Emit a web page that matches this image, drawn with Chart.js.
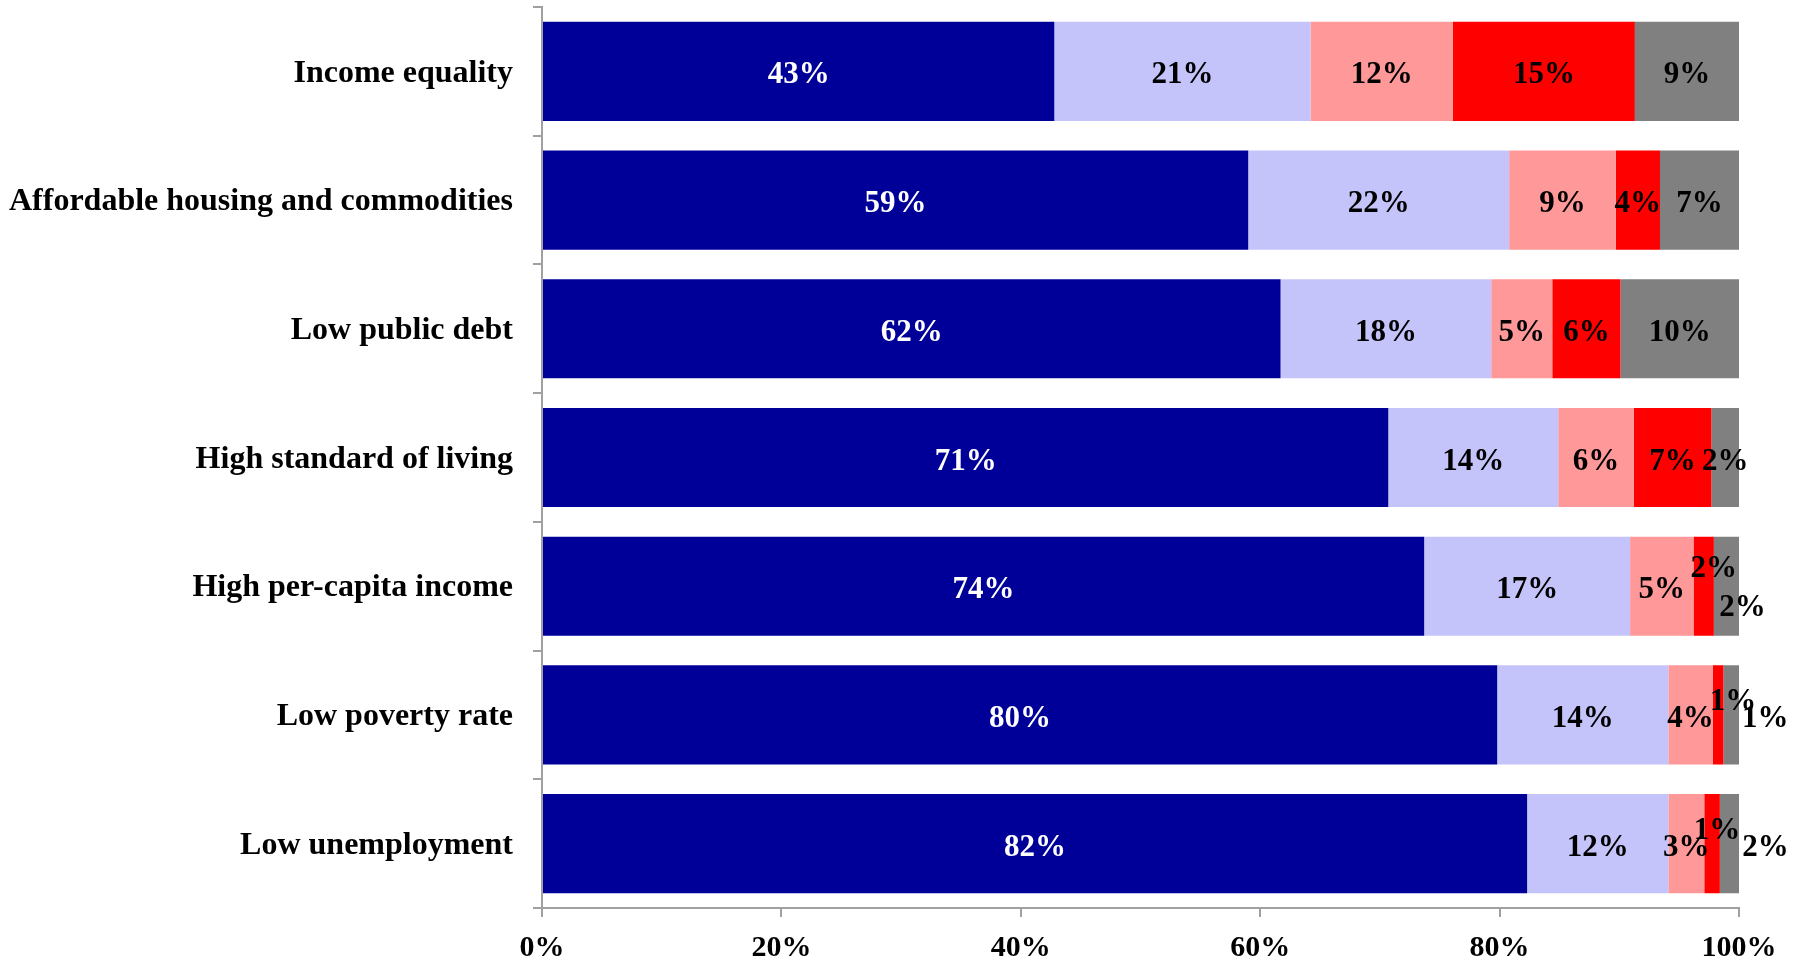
<!DOCTYPE html>
<html>
<head>
<meta charset="utf-8">
<script src="https://cdn.jsdelivr.net/npm/chart.js@4"></script>
<style>
  html, body { margin: 0; padding: 0; background: #fff; }
  #wrap { width: 1804px; height: 960px; }
</style>
</head>
<body>
<div id="wrap"><canvas id="chart" width="1804" height="960"></canvas></div>
<script>
// categories, top to bottom
const categories = [
    'Income equality',
    'Affordable housing and commodities',
    'Low public debt',
    'High standard of living',
    'High per-capita income',
    'Low poverty rate',
    'Low unemployment'
];

// shares (%)
const seriesA = [42.8, 59.0, 61.7, 70.7, 73.7, 79.8, 82.3]; // navy
const seriesB = [21.4, 21.8, 17.6, 14.2, 17.2, 14.3, 11.8]; // lavender
const seriesC = [11.9, 8.9, 5.1, 6.3, 5.3, 3.7, 3.0];       // pink
const seriesD = [15.2, 3.7, 5.7, 6.5, 1.7, 0.9, 1.3];       // red
const seriesE = [8.7, 6.6, 9.9, 2.3, 2.1, 1.3, 1.6];        // grey

const xTicks = [0, 20, 40, 60, 80, 100];

const colors = ['#000099', '#C4C4FA', '#FF9999', '#FF0000', '#808080'];
const labelColors = ['#ffffff', '#000000', '#000000', '#000000', '#000000'];

// small segments whose labels Excel pushed aside: "dataset,row" -> [dx, dy]
const labelNudge = {
    '3,4': [10, -21], '4,4': [16, 18],
    '3,5': [15, -17], '4,5': [34, 0],
    '3,6': [5, -17],  '4,6': [36, 0]
};

const serif = "'Liberation Serif', 'Times New Roman', serif";

const barLabels = {
    id: 'barLabels',
    afterDatasetsDraw(chart) {
        const ctx = chart.ctx;
        ctx.save();
        ctx.font = 'bold 31px ' + serif;
        ctx.textAlign = 'center';
        ctx.textBaseline = 'middle';
        chart.data.datasets.forEach((ds, di) => {
            const meta = chart.getDatasetMeta(di);
            meta.data.forEach((bar, i) => {
                const v = ds.data[i];
                const nudge = labelNudge[di + ',' + i] || [0, 0];
                const cx = (bar.x + bar.base) / 2 + nudge[0];
                const cy = bar.y + nudge[1];
                ctx.fillStyle = labelColors[di];
                ctx.fillText(Math.round(v) + '%', cx, cy + 4);
            });
        });
        ctx.restore();
    }
};

const allSeries = [seriesA, seriesB, seriesC, seriesD, seriesE];

new Chart(document.getElementById('chart'), {
    type: 'bar',
    data: {
        labels: categories,
        datasets: allSeries.map((s, i) => ({
            data: s,
            backgroundColor: colors[i],
            borderWidth: 0,
            barPercentage: 1,
            categoryPercentage: 0.77
        }))
    },
    options: {
        indexAxis: 'y',
        responsive: false,
        animation: false,
        devicePixelRatio: 1,
        layout: { padding: { top: 7, right: 65, bottom: 0, left: 0 } },
        plugins: {
            legend: { display: false },
            tooltip: { enabled: false }
        },
        scales: {
            x: {
                stacked: true,
                min: 0,
                max: 100,
                afterBuildTicks: scale => { scale.ticks = xTicks.map(v => ({ value: v })); },
                afterFit: scale => { scale.height = 52; },
                grid: {
                    drawOnChartArea: false,
                    drawTicks: true,
                    tickLength: 9,
                    color: '#a0a0a0',
                    lineWidth: 2
                },
                border: { color: '#a0a0a0', width: 2 },
                ticks: {
                    padding: 13,
                    color: '#000',
                    font: { family: serif, size: 30, weight: 'bold' },
                    callback: v => v + '%'
                }
            },
            y: {
                stacked: true,
                afterFit: scale => {
                    scale.width = 542;
                    scale.paddingTop = 0;
                    scale.paddingBottom = 0;
                },
                grid: {
                    offset: true,
                    drawOnChartArea: false,
                    drawTicks: true,
                    tickLength: 9,
                    color: '#a0a0a0',
                    lineWidth: 2
                },
                border: { color: '#a0a0a0', width: 2 },
                ticks: {
                    padding: 20,
                    labelOffset: 2,
                    color: '#000',
                    font: { family: serif, size: 32, weight: 'bold' }
                }
            }
        }
    },
    plugins: [barLabels]
});
</script>
</body>
</html>
